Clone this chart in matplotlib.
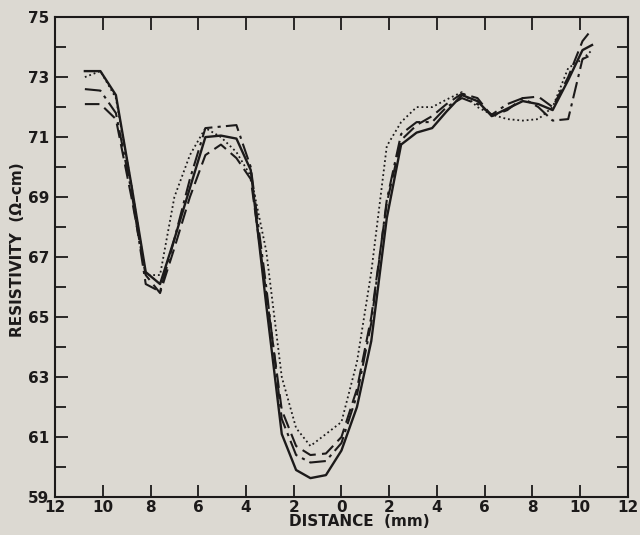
import numpy as np
import matplotlib.pyplot as plt
from matplotlib.ticker import MultipleLocator, FuncFormatter

# distance from centre (mm), shared by all four scans
dist = [-10.75, -10.1, -9.45, -8.8, -8.2, -7.6, -7.0, -6.35, -5.7, -5.05, -4.4, -3.8,
        -3.15, -2.5, -1.9, -1.3, -0.65, 0.0, 0.65, 1.25, 1.9, 2.5, 3.15, 3.8, 4.4,
        5.05, 5.7, 6.3, 6.95, 7.6, 8.25, 8.85, 9.5, 10.1, 10.5]

# resistivity (ohm-cm) for each scan
res_solid = [73.2, 73.2, 72.4, 69.4, 66.5, 66.1, 67.6, 69.3, 71.0, 71.05, 70.95, 69.9,
             65.4, 61.1, 59.9, 59.63, 59.73, 60.55, 62.0, 64.2, 68.3, 70.75, 71.15, 71.3, 71.85,
             72.4, 72.2, 71.7, 71.95, 72.2, 72.1, 71.9, 72.9, 73.9, 74.07]
res_dash = [72.1, 72.1, 71.6, 69.0, 66.4, 65.8, 67.3, 69.0, 70.4, 70.75, 70.3, 69.6,
            65.8, 61.9, 60.7, 60.4, 60.45, 61.0, 62.6, 65.0, 68.8, 70.9, 71.4, 71.7, 72.1,
            72.45, 72.3, 71.7, 71.9, 72.3, 72.35, 72.0, 73.0, 74.2, 74.6]
res_dashdot = [72.6, 72.55, 71.8, 69.2, 66.1, 65.85, 67.6, 69.6, 71.3, 71.35, 71.4, 70.0,
               66.0, 61.6, 60.4, 60.15, 60.2, 60.8, 62.4, 64.8, 68.9, 71.1, 71.5, 71.5, 72.0,
               72.3, 72.1, 71.75, 72.1, 72.3, 72.0, 71.55, 71.6, 73.6, 73.75]
res_dot = [73.0, 73.2, 72.3, 69.4, 66.4, 66.4, 69.0, 70.4, 71.3, 71.0, 70.5, 69.7,
           67.2, 63.0, 61.3, 60.7, 61.1, 61.5, 63.5, 66.5, 70.7, 71.5, 72.0, 72.0, 72.25,
           72.5, 72.0, 71.75, 71.6, 71.55, 71.6, 72.0, 73.3, 73.6, 73.9]

bg = '#dcd9d2'
ink = '#1c1a1a'

fig = plt.figure(figsize=(6.4, 5.35), dpi=100, facecolor=bg)
ax = fig.add_axes([0.086, 0.071, 0.895, 0.897], facecolor=bg)

ax.plot(dist, res_solid, color=ink, lw=1.7, ls='-')
ax.plot(dist, res_dash, color=ink, lw=1.5, ls=(0, (7, 3)))
ax.plot(dist, res_dashdot, color=ink, lw=1.5, ls=(0, (8, 2.5, 1.5, 2.5)))
ax.plot(dist, res_dot, color=ink, lw=1.3, ls=(0, (1, 1.6)))

ax.set_xlim(-12, 12)
ax.set_ylim(59, 75)
ax.xaxis.set_major_locator(MultipleLocator(2))
ax.xaxis.set_major_formatter(FuncFormatter(lambda v, p: '%d' % abs(round(v))))
ax.yaxis.set_major_locator(MultipleLocator(2, offset=1))
ax.yaxis.set_minor_locator(MultipleLocator(1))

ax.tick_params(which='both', direction='in', top=True, right=True, color=ink,
               width=1.3, labelsize=11, labelcolor=ink)
ax.tick_params(which='major', length=9)
ax.tick_params(which='minor', length=8)
ax.tick_params(axis='x', pad=2)
ax.tick_params(axis='y', pad=4)
for lab in ax.get_xticklabels() + ax.get_yticklabels():
    lab.set_fontweight('bold')
for s in ax.spines.values():
    s.set_color(ink)
    s.set_linewidth(1.5)

ax.set_xlabel('DISTANCE  (mm)', fontsize=11, fontweight='bold', color=ink)
ax.set_ylabel('RESISTIVITY  (Ω–cm)', fontsize=11, fontweight='bold', color=ink)
ax.xaxis.set_label_coords(0.532, -0.036)
ax.yaxis.set_label_coords(-0.052, 0.515)

fig.savefig('out.png', dpi=100, facecolor=bg)
